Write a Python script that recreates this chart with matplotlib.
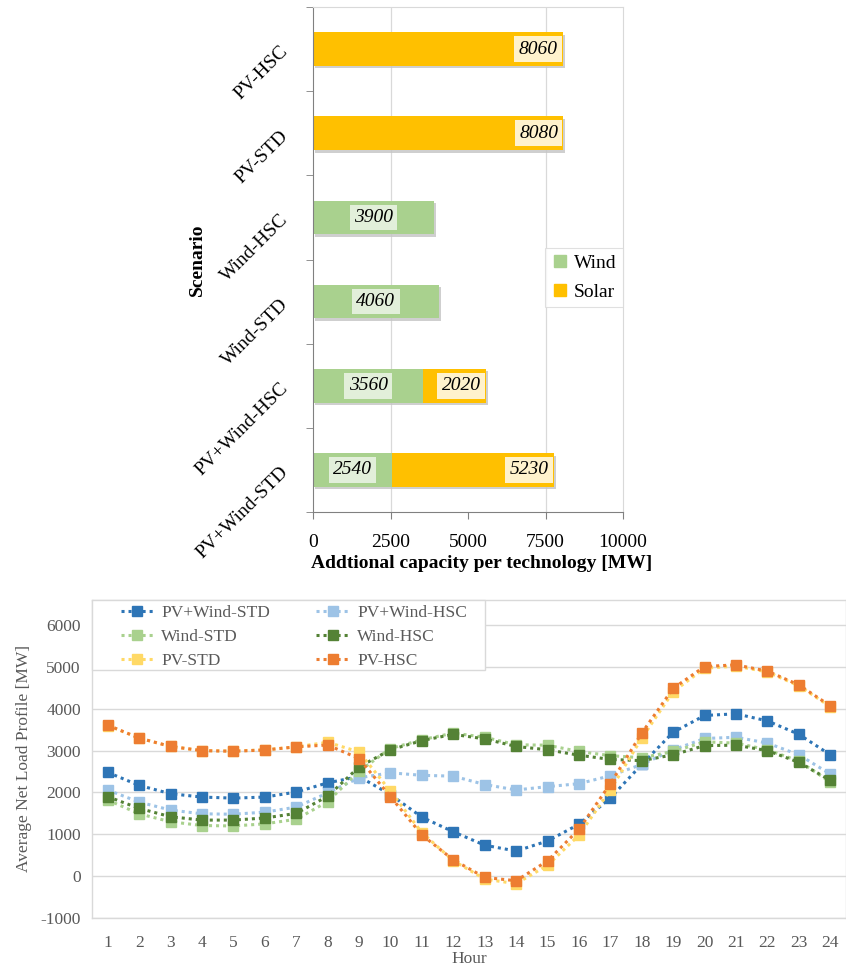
import matplotlib
matplotlib.use("Agg")
import matplotlib.pyplot as plt
from matplotlib.patches import Rectangle
import numpy as np

plt.rcParams['font.family'] = ['Liberation Serif', 'DejaVu Serif']

# ---------------- data: top chart ----------------
scenarios = ["PV-HSC", "PV-STD", "Wind-HSC", "Wind-STD", "PV+Wind-HSC", "PV+Wind-STD"]
wind_cap = [0, 0, 3900, 4060, 3560, 2540]
solar_cap = [8060, 8080, 0, 0, 2020, 5230]
cap_ticks = [0, 2500, 5000, 7500, 10000]

# ---------------- data: bottom chart ----------------
hours = list(range(1, 25))
pvwind_std = [2480, 2170, 1970, 1890, 1865, 1890, 2010, 2230, 2380, 1950, 1410, 1060,
              740, 600, 840, 1240, 1870, 2670, 3440, 3840, 3880, 3710, 3390, 2900]
pvwind_hsc = [2060, 1770, 1580, 1490, 1480, 1530, 1650, 1990, 2350, 2470, 2410, 2390,
              2190, 2060, 2140, 2210, 2400, 2670, 3020, 3290, 3320, 3180, 2900, 2440]
wind_std = [1820, 1490, 1300, 1210, 1200, 1250, 1360, 1780, 2510, 3050, 3260, 3420,
            3320, 3140, 3130, 2980, 2880, 2830, 2980, 3210, 3180, 3020, 2750, 2250]
wind_hsc = [1900, 1620, 1420, 1340, 1340, 1390, 1500, 1910, 2610, 3020, 3240, 3390,
            3280, 3100, 3020, 2890, 2790, 2760, 2900, 3120, 3130, 3000, 2720, 2290]
pv_std = [3600, 3300, 3100, 3000, 2990, 3020, 3090, 3200, 2970, 2030, 1040, 370,
          -70, -180, 260, 980, 2060, 3300, 4410, 4970, 5020, 4880, 4550, 4050]
pv_hsc = [3610, 3300, 3100, 3000, 2985, 3015, 3090, 3135, 2810, 1900, 985, 390,
          -30, -110, 365, 1120, 2210, 3420, 4490, 5010, 5050, 4900, 4570, 4070]
load_ticks = [-1000, 0, 1000, 2000, 3000, 4000, 5000, 6000]

series_names = ["PV+Wind-STD", "PV+Wind-HSC", "Wind-STD", "Wind-HSC", "PV-STD", "PV-HSC"]
series_vals = [pvwind_std, pvwind_hsc, wind_std, wind_hsc, pv_std, pv_hsc]
series_cols = ["#2E75B6", "#9DC3E6", "#A9D18E", "#548235", "#FFD966", "#ED7D31"]

W, H = 846, 969
fig = plt.figure(figsize=(W / 100, H / 100), dpi=100)

# ================= top chart =================
ax1 = fig.add_axes([313 / W, 1 - 512 / H, (623 - 313) / W, (512 - 7) / H])
ypos = np.arange(len(scenarios))
bh = 0.40
wind_col = "#A9D18E"
solar_col = "#FFC000"
fs1 = 14

# shadows
totals = [w + s for w, s in zip(wind_cap, solar_cap)]
ax1.barh(ypos + 0.03, totals, left=60, height=bh, color="#C4C4C4", zorder=1,
         alpha=0.8)
ax1.barh(ypos, wind_cap, height=bh, color=wind_col, zorder=2)
ax1.barh(ypos, solar_cap, left=wind_cap, height=bh, color=solar_col, zorder=2)

for i in range(len(scenarios)):
    if wind_cap[i] > 0:
        ax1.text(wind_cap[i] / 2, ypos[i], f"{wind_cap[i]}", ha="center", va="center",
                 fontsize=fs1, style="italic", zorder=4,
                 bbox=dict(boxstyle="square,pad=0.22", fc="#E2EFDA", ec="none"))
    if solar_cap[i] > 0:
        end = wind_cap[i] + solar_cap[i]
        ax1.text(end - 170, ypos[i], f"{solar_cap[i]}", ha="right", va="center",
                 fontsize=fs1, style="italic", zorder=4,
                 bbox=dict(boxstyle="square,pad=0.22", fc="#FFF2CC", ec="none"))

ax1.set_xlim(0, 10000)
ax1.set_ylim(5.5, -0.5)
ax1.set_xticks(cap_ticks)
ax1.set_xticklabels([str(t) for t in cap_ticks], fontsize=fs1)
ax1.set_yticks(ypos)
ax1.set_yticklabels(scenarios, fontsize=fs1, rotation=45, ha="right",
                    rotation_mode="anchor", va="center")
ax1.tick_params(axis="y", length=0, pad=20)
ax1.tick_params(axis="x", length=5, color="#808080", pad=11)
ax1.set_yticks(np.arange(-0.5, 6.0, 1.0), minor=True)
ax1.tick_params(axis="y", which="minor", length=5, color="#808080")
for xv in [2500, 7500]:
    ax1.axvline(xv, color="#D9D9D9", lw=0.9, zorder=0)
for s in ["top", "right"]:
    ax1.spines[s].set_color("#D9D9D9")
for s in ["left", "bottom"]:
    ax1.spines[s].set_color("#808080")
ax1.set_xlabel("Addtional capacity per technology [MW]", fontsize=fs1,
               fontweight="bold", labelpad=0)
ax1.xaxis.set_label_coords(0.545, -0.085)
ax1.set_ylabel("Scenario", fontsize=fs1, fontweight="bold")
ax1.yaxis.set_label_coords(-0.345, 0.50)
h1 = [plt.Line2D([], [], ls="none", marker="s", ms=8, color=wind_col),
      plt.Line2D([], [], ls="none", marker="s", ms=8, color=solar_col)]
leg1 = ax1.legend(h1, ["Wind", "Solar"], loc="upper right",
                  bbox_to_anchor=(1.0, 0.523), fontsize=fs1, frameon=True,
                  fancybox=False, edgecolor="#D9D9D9", handletextpad=0.3,
                  handlelength=0.8, borderpad=0.35, labelspacing=0.55,
                  borderaxespad=0)
leg1.get_frame().set_linewidth(0.8)

# ================= bottom chart =================
ax_l, ax_r, ax_t, ax_b = 92, 846, 600, 918
ax2 = fig.add_axes([ax_l / W, 1 - ax_b / H, (ax_r - ax_l) / W, (ax_b - ax_t) / H])
gray = "#595959"
for name, vals, col in zip(series_names, series_vals, series_cols):
    ax2.plot(hours, vals, ls=(0, (1, 1.3)), lw=2.2, color=col, marker="s",
             ms=6.5, label=name, zorder=3)
ax2.set_xlim(0.5, 24.5)
ax2.set_ylim(-1000, 6600)
ax2.set_yticks(load_ticks)
ax2.set_yticklabels([str(t) for t in load_ticks], fontsize=12.5, color=gray)
ax2.set_xticks(hours)
ax2.set_xticklabels([str(h) for h in hours], fontsize=12.5, color=gray)
ax2.tick_params(axis="x", length=0, pad=12)
ax2.tick_params(axis="y", length=0, pad=8)
ax2.grid(axis="y", color="#D9D9D9", lw=1.0, zorder=0)
for s in ax2.spines.values():
    s.set_color("#D9D9D9")
    s.set_linewidth(1.0)
ax2.set_xlabel("Hour", fontsize=12.5, color=gray, labelpad=0)
ax2.set_ylabel("Average Net Load Profile [MW]", fontsize=12.5, color=gray,
               labelpad=6)

# legend frame box (92..485 px, 600..670 px)
aw, ah = ax_r - ax_l, ax_b - ax_t
ax2.add_patch(Rectangle((0, 1 - 70 / ah), (485 - 92) / aw, 70 / ah,
                        transform=ax2.transAxes, fc="white", ec="#D9D9D9",
                        lw=1.0, zorder=5, clip_on=False))
handles, labels = ax2.get_legend_handles_labels()
order = [0, 2, 4, 1, 3, 5]
leg2 = ax2.legend([handles[i] for i in order], [labels[i] for i in order],
                  ncol=2, loc="upper left",
                  bbox_to_anchor=((118 - 92) / aw, 1 - 2 / ah),
                  fontsize=12.5, frameon=False, handlelength=1.9,
                  handletextpad=0.45, columnspacing=2.65, labelspacing=0.45,
                  borderpad=0.15, borderaxespad=0)
leg2.set_zorder(6)
for t in leg2.get_texts():
    t.set_color(gray)

fig.savefig("out.png", dpi=100)
